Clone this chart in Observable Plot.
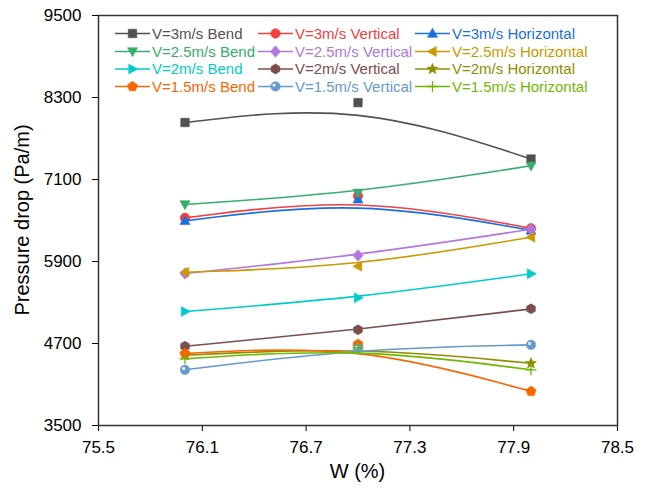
<!DOCTYPE html>
<html><head><meta charset="utf-8">
<script src="https://cdn.jsdelivr.net/npm/d3@7"></script>
<script src="https://cdn.jsdelivr.net/npm/@observablehq/plot@0.6"></script>
<style>body{margin:0;background:#fff;}</style>
</head><body><div id="chart"></div>
<script>
// ---- data ----
const W = [76, 77, 78];
const xTicks = [75.5, 76.1, 76.7, 77.3, 77.9, 78.5];
const yTicks = [3500, 4700, 5900, 7100, 8300, 9500];
const names = [
  "V=3m/s Bend", "V=3m/s Vertical", "V=3m/s Horizontal",
  "V=2.5m/s Bend", "V=2.5m/s Vertical", "V=2.5m/s Horizontal",
  "V=2m/s Bend", "V=2m/s Vertical", "V=2m/s Horizontal",
  "V=1.5m/s Bend", "V=1.5m/s Vertical", "V=1.5m/s Horizontal"
];
const v3Bend = [7934, 8225, 7400];
const v3Vertical = [6539, 6860, 6385];
const v3Horizontal = [6495, 6810, 6355];
const v25Bend = [6734, 6905, 7300];
const v25Vertical = [5725, 5988, 6372];
const v25Horizontal = [5742, 5830, 6256];
const v2Bend = [5168, 5368, 5720];
const v2Vertical = [4660, 4900, 5207];
const v2Horizontal = [4528, 4650, 4410];
const v15Bend = [4553, 4690, 4000];
const v15Vertical = [4315, 4625, 4680];
const v15Horizontal = [4476, 4640, 4315];
const values = [v3Bend, v3Vertical, v3Horizontal, v25Bend, v25Vertical, v25Horizontal,
  v2Bend, v2Vertical, v2Horizontal, v15Bend, v15Vertical, v15Horizontal];
const colors = ["#515151", "#F14040", "#1A6FDF", "#37AD6B", "#B177DE", "#CC9900",
  "#00CBCC", "#7D4E4E", "#8E8E00", "#FB6501", "#6699CC", "#6FB802"];

// ---- symbols ----
function sym(fn) { return {draw(c, size) { fn(c, Math.sqrt(size / Math.PI)); }}; }
function poly(c, pts) { c.moveTo(pts[0][0], pts[0][1]); for (let i = 1; i < pts.length; i++) c.lineTo(pts[i][0], pts[i][1]); c.closePath(); }
function ngon(n, r, rot) { return d3.range(n).map(k => { const a = rot + 2 * Math.PI * k / n; return [r * Math.cos(a), r * Math.sin(a)]; }); }
const S = {
  square: sym((c, r) => c.rect(-r * 0.85, -r * 0.85, 1.7 * r, 1.7 * r)),
  circle: sym((c, r) => { c.moveTo(r * 0.95, 0); c.arc(0, 0, r * 0.95, 0, 2 * Math.PI); c.closePath(); }),
  triUp: sym((c, r) => poly(c, [[0, -r * 1.05], [r, r * 0.75], [-r, r * 0.75]])),
  triDown: sym((c, r) => poly(c, [[0, r * 1.05], [r, -r * 0.75], [-r, -r * 0.75]])),
  triLeft: sym((c, r) => poly(c, [[-r * 1.05, 0], [r * 0.75, -r], [r * 0.75, r]])),
  triRight: sym((c, r) => poly(c, [[r * 1.05, 0], [-r * 0.75, -r], [-r * 0.75, r]])),
  diamond: sym((c, r) => poly(c, [[0, -r * 1.15], [r, 0], [0, r * 1.15], [-r, 0]])),
  hexagon: sym((c, r) => poly(c, ngon(6, r, -Math.PI / 2))),
  star: sym((c, r) => poly(c, d3.range(10).map(k => { const a = -Math.PI / 2 + Math.PI * k / 5; const rr = k % 2 ? r * 0.5 : r * 1.15; return [rr * Math.cos(a), rr * Math.sin(a)]; }))),
  pentagon: sym((c, r) => poly(c, ngon(5, r * 1.05, -Math.PI / 2))),
  plus: sym((c, r) => { c.moveTo(-r * 1.1, 0); c.lineTo(r * 1.1, 0); c.moveTo(0, -r * 1.1); c.lineTo(0, r * 1.1); })
};
const symbols = [S.square, S.circle, S.triUp, S.triDown, S.diamond, S.triLeft,
  S.triRight, S.hexagon, S.star, S.pentagon, S.circle, S.plus];
const R = 5;
const FONT = "'Liberation Sans', Arial, sans-serif";

// ---- marks ----
const marks = [];
values.forEach((vals, i) => {
  const data = W.map((x, j) => ({x, y: vals[j]}));
  marks.push(Plot.line(data, {x: "x", y: "y", curve: "basis", stroke: colors[i], strokeWidth: 1.6}));
  const isPlus = symbols[i] === S.plus;
  marks.push(Plot.dot(data, {x: "x", y: "y", symbol: symbols[i], r: R,
    fill: isPlus ? "none" : colors[i], stroke: colors[i], strokeWidth: isPlus ? 1.3 : 0.6}));
  if (i === 10) marks.push(Plot.dot(data, {x: "x", y: "y", r: 1.6, fill: "#e6eef8", stroke: "none", dx: -1.4, dy: -1.4}));
});
marks.push(Plot.frame({stroke: "#333", strokeWidth: 1.5}));

const chart = Plot.plot({
  width: 646, height: 488,
  marginLeft: 98, marginRight: 29, marginTop: 15, marginBottom: 63,
  style: {fontFamily: FONT, fontSize: "17px", color: "#000", background: "#fff"},
  x: {domain: [75.5, 78.5], ticks: xTicks, tickFormat: d => d.toFixed(1), tickSize: 6, tickPadding: 9, label: null},
  y: {domain: [3500, 9500], ticks: yTicks, tickFormat: d => String(d), tickSize: 6, tickPadding: 11, label: null},
  marks
});
document.getElementById("chart").appendChild(chart);

// ---- titles & legend ----
const svg = d3.select(chart);
svg.append("text").attr("x", 357.5).attr("y", 478).attr("text-anchor", "middle")
  .style("font-size", "20px").style("font-family", FONT).attr("fill", "#000").text("W (%)");
svg.append("text").attr("transform", "translate(29,220) rotate(-90)").attr("text-anchor", "middle")
  .style("font-size", "20px").style("font-family", FONT).attr("fill", "#000").text("Pressure drop (Pa/m)");

const colX = [115, 258, 415];
const rowY = [33.5, 51.5, 69, 86.5];
const lg = svg.append("g").style("font-family", FONT).style("font-size", "15px");
names.forEach((name, i) => {
  const cx = colX[i % 3], cy = rowY[Math.floor(i / 3)];
  const g = lg.append("g").attr("transform", `translate(${cx},${cy})`);
  g.append("line").attr("x1", 0).attr("x2", 35).attr("y1", 0).attr("y2", 0).attr("stroke", colors[i]).attr("stroke-width", 1.6);
  const isPlus = symbols[i] === S.plus;
  g.append("path").attr("transform", "translate(17.5,0)").attr("d", d3.symbol(symbols[i], R * R * Math.PI)())
    .attr("fill", isPlus ? "none" : colors[i]).attr("stroke", colors[i]).attr("stroke-width", isPlus ? 1.3 : 0.6);
  if (i === 10) g.append("circle").attr("cx", 16.1).attr("cy", -1.4).attr("r", 1.6).attr("fill", "#e6eef8");
  g.append("text").attr("x", 37).attr("y", 0).attr("dy", "0.35em").attr("text-anchor", "start").attr("fill", colors[i]).text(name);
});
</script>
</body></html>
